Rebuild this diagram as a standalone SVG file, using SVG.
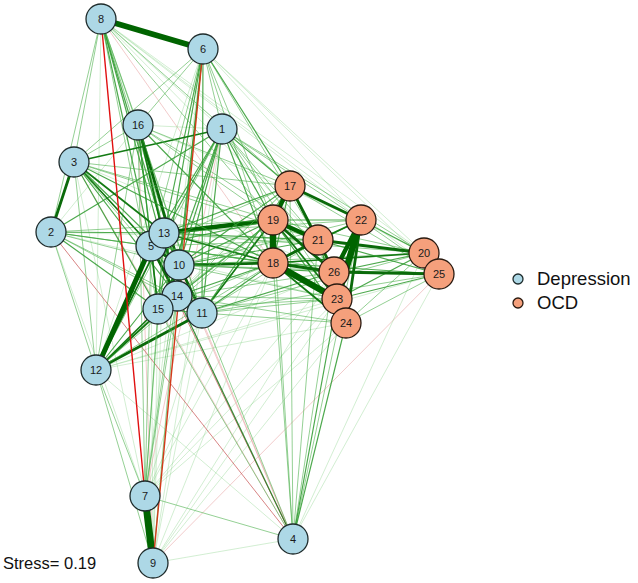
<svg xmlns="http://www.w3.org/2000/svg" width="638" height="583" viewBox="0 0 638 583">
<style>
line{stroke-linecap:round}
.a{stroke:#7fcf7f;stroke-opacity:.35;stroke-width:1}
.b{stroke:#4cb04c;stroke-opacity:.6;stroke-width:1}
.c{stroke:#2e9a2e;stroke-opacity:.85;stroke-width:1.2}
.d{stroke:#137a13;stroke-width:1.7}
.e{stroke:#0a6a0a;stroke-width:2.8}
.f{stroke:#006400;stroke-width:4.4}
.g{stroke:#006400;stroke-width:6.5}
.p{stroke:#e8a0a0;stroke-opacity:.55;stroke-width:1}
.q{stroke:#c85050;stroke-opacity:.7;stroke-width:1}
.r{stroke:#e01010;stroke-width:1.4}
.dep{fill:#add8e6;stroke:#1e2b2b;stroke-width:1.3}
.ocd{fill:#f5a07c;stroke:#2a1a10;stroke-width:1.3}
.lbl{font-family:"Liberation Sans",Arial,sans-serif;font-size:11px;fill:#1a1a1a;text-anchor:middle}
.leg{font-family:"Liberation Sans",Arial,sans-serif;font-size:18.5px;fill:#111}
</style>
<rect width="638" height="583" fill="#fff"/>
<g id="edges">
<line class="a" x1="153" y1="563" x2="293" y2="539"/>
<line class="a" x1="153" y1="563" x2="164" y2="233"/>
<line class="a" x1="153" y1="563" x2="179" y2="265"/>
<line class="a" x1="153" y1="563" x2="202" y2="313"/>
<line class="a" x1="153" y1="563" x2="158" y2="309"/>
<line class="a" x1="153" y1="563" x2="151" y2="246"/>
<line class="a" x1="153" y1="563" x2="222" y2="129"/>
<line class="a" x1="153" y1="563" x2="346" y2="323"/>
<line class="a" x1="153" y1="563" x2="337" y2="299"/>
<line class="p" x1="153" y1="563" x2="439" y2="274"/>
<line class="a" x1="153" y1="563" x2="273" y2="263"/>
<line class="a" x1="153" y1="563" x2="334" y2="272"/>
<line class="p" x1="153" y1="563" x2="138" y2="125"/>
<line class="a" x1="145" y1="496" x2="273" y2="263"/>
<line class="a" x1="145" y1="496" x2="337" y2="299"/>
<line class="a" x1="145" y1="496" x2="346" y2="323"/>
<line class="a" x1="145" y1="496" x2="334" y2="272"/>
<line class="a" x1="145" y1="496" x2="273" y2="220"/>
<line class="p" x1="145" y1="496" x2="222" y2="129"/>
<line class="a" x1="293" y1="539" x2="424" y2="253"/>
<line class="a" x1="293" y1="539" x2="439" y2="274"/>
<line class="p" x1="293" y1="539" x2="179" y2="265"/>
<line class="p" x1="293" y1="539" x2="164" y2="233"/>
<line class="q" x1="293" y1="539" x2="151" y2="246"/>
<line class="q" x1="293" y1="539" x2="51" y2="232"/>
<line class="a" x1="293" y1="539" x2="96" y2="370"/>
<line class="p" x1="293" y1="539" x2="74" y2="162"/>
<line class="a" x1="96" y1="370" x2="337" y2="299"/>
<line class="a" x1="96" y1="370" x2="346" y2="323"/>
<line class="a" x1="96" y1="370" x2="334" y2="272"/>
<line class="a" x1="96" y1="370" x2="290" y2="186"/>
<line class="a" x1="96" y1="370" x2="439" y2="274"/>
<line class="a" x1="203" y1="49" x2="424" y2="253"/>
<line class="a" x1="203" y1="49" x2="439" y2="274"/>
<line class="a" x1="203" y1="49" x2="361" y2="220"/>
<line class="a" x1="101" y1="19" x2="424" y2="253"/>
<line class="a" x1="101" y1="19" x2="439" y2="274"/>
<line class="a" x1="101" y1="19" x2="361" y2="220"/>
<line class="a" x1="101" y1="19" x2="318" y2="240"/>
<line class="p" x1="101" y1="19" x2="273" y2="263"/>
<line class="a" x1="101" y1="19" x2="222" y2="129"/>
<line class="a" x1="101" y1="19" x2="96" y2="370"/>
<line class="a" x1="203" y1="49" x2="96" y2="370"/>
<line class="a" x1="203" y1="49" x2="145" y2="496"/>
<line class="a" x1="138" y1="125" x2="222" y2="129"/>
<line class="a" x1="138" y1="125" x2="51" y2="232"/>
<line class="a" x1="138" y1="125" x2="361" y2="220"/>
<line class="a" x1="74" y1="162" x2="334" y2="272"/>
<line class="a" x1="51" y1="232" x2="318" y2="240"/>
<line class="a" x1="51" y1="232" x2="337" y2="299"/>
<line class="a" x1="290" y1="186" x2="424" y2="253"/>
<line class="a" x1="202" y1="313" x2="145" y2="496"/>
<line class="a" x1="145" y1="496" x2="74" y2="162"/>
<line class="a" x1="145" y1="496" x2="51" y2="232"/>
<line class="b" x1="101" y1="19" x2="74" y2="162"/>
<line class="b" x1="101" y1="19" x2="51" y2="232"/>
<line class="b" x1="101" y1="19" x2="138" y2="125"/>
<line class="c" x1="101" y1="19" x2="164" y2="233"/>
<line class="c" x1="101" y1="19" x2="151" y2="246"/>
<line class="b" x1="101" y1="19" x2="179" y2="265"/>
<line class="c" x1="101" y1="19" x2="177" y2="296"/>
<line class="b" x1="101" y1="19" x2="158" y2="309"/>
<line class="b" x1="101" y1="19" x2="202" y2="313"/>
<line class="b" x1="203" y1="49" x2="138" y2="125"/>
<line class="b" x1="203" y1="49" x2="74" y2="162"/>
<line class="b" x1="203" y1="49" x2="222" y2="129"/>
<line class="c" x1="203" y1="49" x2="164" y2="233"/>
<line class="b" x1="203" y1="49" x2="151" y2="246"/>
<line class="c" x1="203" y1="49" x2="179" y2="265"/>
<line class="c" x1="203" y1="49" x2="177" y2="296"/>
<line class="c" x1="203" y1="49" x2="158" y2="309"/>
<line class="c" x1="203" y1="49" x2="202" y2="313"/>
<line class="b" x1="138" y1="125" x2="74" y2="162"/>
<line class="c" x1="138" y1="125" x2="164" y2="233"/>
<line class="c" x1="138" y1="125" x2="151" y2="246"/>
<line class="e" x1="138" y1="125" x2="179" y2="265"/>
<line class="d" x1="138" y1="125" x2="177" y2="296"/>
<line class="c" x1="138" y1="125" x2="158" y2="309"/>
<line class="b" x1="138" y1="125" x2="202" y2="313"/>
<line class="b" x1="138" y1="125" x2="96" y2="370"/>
<line class="b" x1="138" y1="125" x2="145" y2="496"/>
<line class="d" x1="222" y1="129" x2="74" y2="162"/>
<line class="c" x1="222" y1="129" x2="164" y2="233"/>
<line class="c" x1="222" y1="129" x2="151" y2="246"/>
<line class="c" x1="222" y1="129" x2="179" y2="265"/>
<line class="c" x1="222" y1="129" x2="177" y2="296"/>
<line class="c" x1="222" y1="129" x2="158" y2="309"/>
<line class="c" x1="222" y1="129" x2="202" y2="313"/>
<line class="b" x1="222" y1="129" x2="96" y2="370"/>
<line class="c" x1="222" y1="129" x2="51" y2="232"/>
<line class="e" x1="74" y1="162" x2="51" y2="232"/>
<line class="d" x1="74" y1="162" x2="164" y2="233"/>
<line class="d" x1="74" y1="162" x2="151" y2="246"/>
<line class="c" x1="74" y1="162" x2="179" y2="265"/>
<line class="c" x1="74" y1="162" x2="177" y2="296"/>
<line class="c" x1="74" y1="162" x2="158" y2="309"/>
<line class="b" x1="74" y1="162" x2="202" y2="313"/>
<line class="b" x1="74" y1="162" x2="96" y2="370"/>
<line class="c" x1="51" y1="232" x2="164" y2="233"/>
<line class="c" x1="51" y1="232" x2="151" y2="246"/>
<line class="b" x1="51" y1="232" x2="179" y2="265"/>
<line class="b" x1="51" y1="232" x2="177" y2="296"/>
<line class="c" x1="51" y1="232" x2="158" y2="309"/>
<line class="b" x1="51" y1="232" x2="202" y2="313"/>
<line class="b" x1="51" y1="232" x2="96" y2="370"/>
<line class="d" x1="164" y1="233" x2="179" y2="265"/>
<line class="d" x1="164" y1="233" x2="177" y2="296"/>
<line class="c" x1="164" y1="233" x2="158" y2="309"/>
<line class="c" x1="164" y1="233" x2="202" y2="313"/>
<line class="d" x1="164" y1="233" x2="96" y2="370"/>
<line class="e" x1="151" y1="246" x2="179" y2="265"/>
<line class="e" x1="151" y1="246" x2="177" y2="296"/>
<line class="d" x1="151" y1="246" x2="158" y2="309"/>
<line class="c" x1="151" y1="246" x2="202" y2="313"/>
<line class="f" x1="151" y1="246" x2="96" y2="370" style="stroke-width:5"/>
<line class="e" x1="179" y1="265" x2="177" y2="296"/>
<line class="e" x1="179" y1="265" x2="202" y2="313"/>
<line class="d" x1="179" y1="265" x2="158" y2="309"/>
<line class="c" x1="179" y1="265" x2="96" y2="370"/>
<line class="d" x1="177" y1="296" x2="158" y2="309"/>
<line class="d" x1="177" y1="296" x2="202" y2="313"/>
<line class="d" x1="177" y1="296" x2="96" y2="370"/>
<line class="c" x1="177" y1="296" x2="293" y2="539" style="stroke:#1a7a1a"/>
<line class="c" x1="158" y1="309" x2="202" y2="313"/>
<line class="d" x1="158" y1="309" x2="96" y2="370"/>
<line class="e" x1="202" y1="313" x2="96" y2="370"/>
<line class="b" x1="96" y1="370" x2="145" y2="496"/>
<line class="b" x1="96" y1="370" x2="153" y2="563"/>
<line class="b" x1="145" y1="496" x2="293" y2="539"/>
<line class="b" x1="145" y1="496" x2="164" y2="233"/>
<line class="b" x1="145" y1="496" x2="151" y2="246"/>
<line class="b" x1="145" y1="496" x2="179" y2="265"/>
<line class="b" x1="145" y1="496" x2="177" y2="296"/>
<line class="b" x1="145" y1="496" x2="158" y2="309"/>
<line class="b" x1="153" y1="563" x2="177" y2="296"/>
<line class="b" x1="293" y1="539" x2="202" y2="313"/>
<line class="b" x1="293" y1="539" x2="158" y2="309"/>
<line class="f" x1="164" y1="233" x2="273" y2="220"/>
<line class="d" x1="164" y1="233" x2="273" y2="263"/>
<line class="c" x1="164" y1="233" x2="290" y2="186"/>
<line class="c" x1="164" y1="233" x2="318" y2="240"/>
<line class="b" x1="164" y1="233" x2="361" y2="220"/>
<line class="b" x1="164" y1="233" x2="334" y2="272"/>
<line class="b" x1="164" y1="233" x2="424" y2="253"/>
<line class="c" x1="151" y1="246" x2="273" y2="220"/>
<line class="c" x1="151" y1="246" x2="273" y2="263"/>
<line class="b" x1="151" y1="246" x2="290" y2="186"/>
<line class="b" x1="151" y1="246" x2="318" y2="240"/>
<line class="b" x1="151" y1="246" x2="334" y2="272"/>
<line class="e" x1="179" y1="265" x2="273" y2="263"/>
<line class="c" x1="179" y1="265" x2="273" y2="220"/>
<line class="c" x1="179" y1="265" x2="290" y2="186"/>
<line class="c" x1="179" y1="265" x2="318" y2="240"/>
<line class="c" x1="179" y1="265" x2="334" y2="272"/>
<line class="b" x1="179" y1="265" x2="337" y2="299"/>
<line class="b" x1="179" y1="265" x2="424" y2="253"/>
<line class="b" x1="179" y1="265" x2="439" y2="274"/>
<line class="b" x1="179" y1="265" x2="361" y2="220"/>
<line class="c" x1="177" y1="296" x2="273" y2="263"/>
<line class="c" x1="177" y1="296" x2="273" y2="220"/>
<line class="b" x1="177" y1="296" x2="337" y2="299"/>
<line class="b" x1="177" y1="296" x2="334" y2="272"/>
<line class="b" x1="177" y1="296" x2="346" y2="323"/>
<line class="b" x1="177" y1="296" x2="290" y2="186"/>
<line class="b" x1="158" y1="309" x2="273" y2="263"/>
<line class="b" x1="158" y1="309" x2="273" y2="220"/>
<line class="b" x1="158" y1="309" x2="337" y2="299"/>
<line class="d" x1="202" y1="313" x2="273" y2="220"/>
<line class="c" x1="202" y1="313" x2="273" y2="263"/>
<line class="c" x1="202" y1="313" x2="290" y2="186"/>
<line class="b" x1="202" y1="313" x2="337" y2="299"/>
<line class="b" x1="202" y1="313" x2="346" y2="323"/>
<line class="c" x1="202" y1="313" x2="334" y2="272"/>
<line class="b" x1="202" y1="313" x2="439" y2="274"/>
<line class="b" x1="202" y1="313" x2="424" y2="253"/>
<line class="b" x1="202" y1="313" x2="318" y2="240"/>
<line class="c" x1="222" y1="129" x2="290" y2="186"/>
<line class="c" x1="222" y1="129" x2="273" y2="220"/>
<line class="c" x1="222" y1="129" x2="273" y2="263"/>
<line class="b" x1="222" y1="129" x2="318" y2="240"/>
<line class="b" x1="222" y1="129" x2="361" y2="220"/>
<line class="b" x1="222" y1="129" x2="424" y2="253"/>
<line class="b" x1="222" y1="129" x2="334" y2="272"/>
<line class="b" x1="222" y1="129" x2="337" y2="299"/>
<line class="b" x1="138" y1="125" x2="290" y2="186"/>
<line class="b" x1="138" y1="125" x2="273" y2="220"/>
<line class="c" x1="138" y1="125" x2="273" y2="263"/>
<line class="b" x1="138" y1="125" x2="318" y2="240"/>
<line class="b" x1="74" y1="162" x2="290" y2="186"/>
<line class="b" x1="74" y1="162" x2="273" y2="220"/>
<line class="c" x1="74" y1="162" x2="273" y2="263"/>
<line class="b" x1="74" y1="162" x2="318" y2="240"/>
<line class="b" x1="51" y1="232" x2="273" y2="220"/>
<line class="b" x1="51" y1="232" x2="273" y2="263"/>
<line class="c" x1="203" y1="49" x2="290" y2="186"/>
<line class="b" x1="203" y1="49" x2="273" y2="220"/>
<line class="b" x1="203" y1="49" x2="318" y2="240"/>
<line class="b" x1="203" y1="49" x2="273" y2="263"/>
<line class="b" x1="101" y1="19" x2="290" y2="186"/>
<line class="b" x1="101" y1="19" x2="273" y2="220"/>
<line class="b" x1="96" y1="370" x2="273" y2="263"/>
<line class="b" x1="96" y1="370" x2="273" y2="220"/>
<line class="b" x1="293" y1="539" x2="290" y2="186"/>
<line class="b" x1="293" y1="539" x2="273" y2="263"/>
<line class="b" x1="293" y1="539" x2="273" y2="220"/>
<line class="b" x1="293" y1="539" x2="318" y2="240"/>
<line class="b" x1="293" y1="539" x2="361" y2="220"/>
<line class="b" x1="293" y1="539" x2="334" y2="272"/>
<line class="c" x1="293" y1="539" x2="337" y2="299"/>
<line class="c" x1="293" y1="539" x2="346" y2="323"/>
<line class="c" x1="290" y1="186" x2="273" y2="263"/>
<line class="c" x1="290" y1="186" x2="334" y2="272"/>
<line class="b" x1="290" y1="186" x2="439" y2="274"/>
<line class="c" x1="273" y1="220" x2="361" y2="220"/>
<line class="b" x1="273" y1="220" x2="424" y2="253"/>
<line class="c" x1="273" y1="220" x2="346" y2="323"/>
<line class="d" x1="273" y1="220" x2="337" y2="299"/>
<line class="c" x1="273" y1="263" x2="361" y2="220"/>
<line class="c" x1="273" y1="263" x2="439" y2="274"/>
<line class="d" x1="273" y1="263" x2="424" y2="253"/>
<line class="d" x1="273" y1="263" x2="346" y2="323"/>
<line class="c" x1="318" y1="240" x2="337" y2="299"/>
<line class="c" x1="318" y1="240" x2="439" y2="274"/>
<line class="c" x1="318" y1="240" x2="346" y2="323"/>
<line class="d" x1="318" y1="240" x2="361" y2="220"/>
<line class="c" x1="361" y1="220" x2="424" y2="253"/>
<line class="b" x1="361" y1="220" x2="439" y2="274"/>
<line class="d" x1="334" y1="272" x2="337" y2="299"/>
<line class="c" x1="334" y1="272" x2="346" y2="323"/>
<line class="c" x1="334" y1="272" x2="424" y2="253"/>
<line class="c" x1="337" y1="299" x2="439" y2="274"/>
<line class="c" x1="337" y1="299" x2="424" y2="253"/>
<line class="d" x1="337" y1="299" x2="346" y2="323"/>
<line class="b" x1="346" y1="323" x2="439" y2="274"/>
<line class="b" x1="346" y1="323" x2="424" y2="253"/>
<line class="c" x1="424" y1="253" x2="439" y2="274"/>
<line class="e" x1="290" y1="186" x2="318" y2="240"/>
<line class="e" x1="290" y1="186" x2="361" y2="220"/>
<line class="f" x1="290" y1="186" x2="273" y2="220"/>
<line class="f" x1="273" y1="220" x2="318" y2="240"/>
<line class="e" x1="273" y1="220" x2="334" y2="272"/>
<line class="e" x1="273" y1="263" x2="318" y2="240"/>
<line class="e" x1="273" y1="263" x2="334" y2="272"/>
<line class="e" x1="318" y1="240" x2="334" y2="272"/>
<line class="e" x1="318" y1="240" x2="424" y2="253"/>
<line class="e" x1="334" y1="272" x2="439" y2="274"/>
<line class="e" x1="361" y1="220" x2="346" y2="323"/>
<line class="f" x1="361" y1="220" x2="334" y2="272"/>
<line class="g" x1="273" y1="263" x2="337" y2="299"/>
<line class="g" x1="361" y1="220" x2="337" y2="299"/>
<line class="g" x1="273" y1="220" x2="273" y2="263"/>
<line class="f" x1="101" y1="19" x2="203" y2="49" style="stroke-width:5.5"/>
<line class="g" x1="145" y1="496" x2="153" y2="563" style="stroke-width:7"/>
<line class="r" x1="101" y1="19" x2="145" y2="496"/>
<line class="r" x1="203" y1="49" x2="153" y2="563" style="stroke:#d23a1a"/>
</g>
<g id="node-1" class="node"><circle class="dep" cx="222" cy="129" r="15"/><text class="lbl" x="222" y="133">1</text></g>
<g id="node-2" class="node"><circle class="dep" cx="51" cy="232" r="15"/><text class="lbl" x="51" y="236">2</text></g>
<g id="node-3" class="node"><circle class="dep" cx="74" cy="162" r="15"/><text class="lbl" x="74" y="166">3</text></g>
<g id="node-4" class="node"><circle class="dep" cx="293" cy="539" r="15"/><text class="lbl" x="293" y="543">4</text></g>
<g id="node-5" class="node"><circle class="dep" cx="151" cy="246" r="15"/><text class="lbl" x="151" y="250">5</text></g>
<g id="node-6" class="node"><circle class="dep" cx="203" cy="49" r="15"/><text class="lbl" x="203" y="53">6</text></g>
<g id="node-7" class="node"><circle class="dep" cx="145" cy="496" r="15"/><text class="lbl" x="145" y="500">7</text></g>
<g id="node-8" class="node"><circle class="dep" cx="101" cy="19" r="15"/><text class="lbl" x="101" y="23">8</text></g>
<g id="node-9" class="node"><circle class="dep" cx="153" cy="563" r="15"/><text class="lbl" x="153" y="567">9</text></g>
<g id="node-10" class="node"><circle class="dep" cx="179" cy="265" r="15"/><text class="lbl" x="179" y="269">10</text></g>
<g id="node-12" class="node"><circle class="dep" cx="96" cy="370" r="15"/><text class="lbl" x="96" y="374">12</text></g>
<g id="node-13" class="node"><circle class="dep" cx="164" cy="233" r="15"/><text class="lbl" x="164" y="237">13</text></g>
<g id="node-14" class="node"><circle class="dep" cx="177" cy="296" r="15"/><text class="lbl" x="177" y="300">14</text></g>
<g id="node-11" class="node"><circle class="dep" cx="202" cy="313" r="15"/><text class="lbl" x="202" y="317">11</text></g>
<g id="node-15" class="node"><circle class="dep" cx="158" cy="309" r="15"/><text class="lbl" x="158" y="313">15</text></g>
<g id="node-16" class="node"><circle class="dep" cx="138" cy="125" r="15"/><text class="lbl" x="138" y="129">16</text></g>
<g id="node-17" class="node"><circle class="ocd" cx="290" cy="186" r="15"/><text class="lbl" x="290" y="190">17</text></g>
<g id="node-18" class="node"><circle class="ocd" cx="273" cy="263" r="15"/><text class="lbl" x="273" y="267">18</text></g>
<g id="node-19" class="node"><circle class="ocd" cx="273" cy="220" r="15"/><text class="lbl" x="273" y="224">19</text></g>
<g id="node-20" class="node"><circle class="ocd" cx="424" cy="253" r="15"/><text class="lbl" x="424" y="257">20</text></g>
<g id="node-21" class="node"><circle class="ocd" cx="318" cy="240" r="15"/><text class="lbl" x="318" y="244">21</text></g>
<g id="node-22" class="node"><circle class="ocd" cx="361" cy="220" r="15"/><text class="lbl" x="361" y="224">22</text></g>
<g id="node-26" class="node"><circle class="ocd" cx="334" cy="272" r="15"/><text class="lbl" x="334" y="276">26</text></g>
<g id="node-23" class="node"><circle class="ocd" cx="337" cy="299" r="15"/><text class="lbl" x="337" y="303">23</text></g>
<g id="node-24" class="node"><circle class="ocd" cx="346" cy="323" r="15"/><text class="lbl" x="346" y="327">24</text></g>
<g id="node-25" class="node"><circle class="ocd" cx="439" cy="274" r="15"/><text class="lbl" x="439" y="278">25</text></g>
<g id="legend">
<circle class="dep" cx="518" cy="279" r="5"/>
<text class="leg" x="537" y="285">Depression</text>
<circle class="ocd" cx="518" cy="303" r="5"/>
<text class="leg" x="537" y="309">OCD</text>
</g>
<text x="3" y="569" font-family="Liberation Sans,Arial,sans-serif" font-size="16.5" fill="#111">Stress= 0.19</text>
</svg>
